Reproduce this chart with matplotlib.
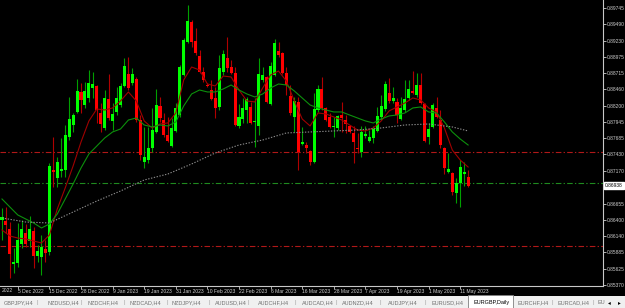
import matplotlib.pyplot as plt
from matplotlib.patches import Rectangle
import numpy as np

plt.rcParams['font.family'] = ['Liberation Sans', 'DejaVu Sans']

# EURGBP daily candles, oldest first
opens = [.86395, .86379, .86253, .85700, .85716, .86016, .86190, .86063, .86221, .85826,
         .85810, .85937, .85889, .87185, .87059, .87169, .87185, .87707, .87896, .88102,
         .88418, .88212, .88323, .88481, .88513, .88086, .87849, .88307, .87960, .88102,
         .88212, .88513, .88702, .88560, .88623, .87975, .87311, .87343, .87533, .87786,
         .88197, .87975, .87738, .87564, .87802, .88054, .88686, .89207, .89523, .89223,
         .88986, .88733, .88528, .88449, .88323, .88181, .88733, .88955, .88812, .88718,
         .87881, .87991, .88133, .88181, .87944, .87881, .88607, .88655, .88228, .88686,
         .89065, .89034, .88718, .88355, .88023, .88260, .87596, .87580, .87485, .87311,
         .88133, .88465, .88165, .88023, .87865, .87849, .88054, .87975, .87881, .87770,
         .87533, .87469, .87723, .87643, .87691, .87802, .88023, .88149, .88402, .88276,
         .88260, .87991, .88133, .88323, .88434, .88370, .88528, .88228, .87707, .87865,
         .88165, .87975, .87533, .87153, .87138, .86822, .86980, .87122, .87075]
highs = [.86585, .86600, .86363, .85953, .86348, .86395, .86332, .86458, .86285, .86000,
         .86158, .86079, .87296, .87707, .87390, .87691, .87896, .88339, .88086, .88623,
         .88560, .88576, .88765, .88733, .88528, .88244, .88449, .88702, .88244, .88497,
         .88560, .88955, .88970, .88797, .88655, .88054, .87865, .87865, .88165, .88465,
         .88339, .88086, .88023, .88007, .88244, .88844, .89270, .89792, .89555, .89429,
         .89081, .88812, .88560, .88607, .88497, .89002, .89081, .89286, .88923, .88812,
         .88228, .88323, .88339, .88260, .88323, .88955, .88812, .88670, .88891, .89255,
         .89207, .89049, .88812, .88528, .88339, .88339, .87865, .87627, .87501, .88402,
         .88528, .88655, .88181, .88086, .88023, .88054, .88260, .88054, .87896, .87881,
         .87770, .87881, .87881, .87817, .87881, .88181, .88370, .88591, .88639, .88497,
         .88323, .88339, .88607, .88607, .88749, .88718, .88718, .88244, .87928, .88244,
         .88339, .88133, .87548, .87454, .87153, .87059, .87343, .87311, .87185]
lows = [.86079, .86190, .85479, .85558, .85652, .85953, .85968, .85968, .85637, .85731,
        .85526, .85731, .85842, .86916, .86916, .87075, .87075, .87659, .87786, .88086,
        .88086, .88165, .88260, .88323, .87928, .87786, .87817, .87975, .87817, .88054,
        .88181, .88497, .88449, .88528, .87944, .87343, .87217, .87296, .87469, .87770,
        .87944, .87707, .87627, .87548, .87786, .88023, .88670, .89190, .89128, .89002,
        .88718, .88576, .88497, .88291, .88007, .88133, .88686, .88733, .88702, .87881,
        .87849, .87928, .87928, .87912, .87548, .87738, .88576, .88244, .88212, .88670,
        .88970, .88702, .88370, .88054, .87786, .87185, .87580, .87454, .87264, .87296,
        .88102, .88133, .87960, .87849, .87707, .87817, .87786, .87770, .87770, .87296,
        .87454, .87390, .87691, .87627, .87612, .87786, .87975, .88118, .88244, .88244,
        .87928, .87975, .88102, .88291, .88386, .88339, .88228, .87627, .87596, .87849,
        .88007, .87533, .87122, .87138, .86790, .86664, .86600, .86932, .86916]
closes = [.86442, .86316, .85858, .85731, .86079, .86253, .86016, .86253, .85826, .85905,
          .85968, .85874, .87248, .87153, .87311, .87201, .87738, .87991, .88054, .88434,
          .88291, .88434, .88560, .88544, .88133, .87912, .88323, .88007, .88070, .88323,
          .88513, .88828, .88481, .88702, .87975, .87422, .87390, .87533, .87817, .88212,
          .88007, .87738, .87643, .87849, .88165, .88812, .89239, .89539, .89207, .89034,
          .88733, .88607, .88513, .88307, .88165, .88797, .89018, .88797, .88718, .87896,
          .88023, .88165, .88307, .87928, .87960, .88702, .88686, .88260, .88828, .89192,
          .89002, .88718, .88528, .88086, .88276, .87469, .87627, .87533, .87311, .88149,
          .88465, .88165, .87975, .87865, .87881, .88039, .88007, .87912, .87786, .87627,
          .87517, .87786, .87754, .87707, .87833, .88039, .88197, .88544, .88276, .88323,
          .88054, .88165, .88307, .88465, .88402, .88528, .88244, .87643, .87833, .88212,
          .88023, .87580, .87217, .87201, .86837, .86980, .87232, .87153, .86938]

# moving averages read every 2nd bar (grey one at its own bars)
fast_ma = [.86237, .86142, .86110, .86095, .86063, .86032, .86158, .86569, .86901, .87248,
           .87627, .87960, .88149, .88133, .88165, .88276, .88418, .88276, .87960, .87849,
           .87912, .87928, .88086, .88607, .88812, .88765, .88544, .88513, .88670, .88655,
           .88449, .88276, .88260, .88481, .88686, .88749, .88591, .88276, .87991, .87881,
           .88086, .88070, .88023, .87975, .87896, .87817, .87802, .87849, .87960, .88118,
           .88181, .88244, .88323, .88291, .88165, .88102, .87849, .87501, .87343, .87232]
mid_ma = [.86727, .86600, .86474, .86411, .86348, .86269, .86332, .86490, .86727, .86964,
          .87217, .87438, .87564, .87691, .87786, .87833, .87975, .88007, .87896, .87865,
          .87896, .87881, .87944, .88197, .88386, .88449, .88418, .88418, .88465, .88528,
          .88449, .88386, .88339, .88386, .88481, .88544, .88528, .88434, .88323, .88212,
          .88165, .88133, .88102, .88102, .88054, .88007, .87960, .87928, .87991, .88039,
          .88054, .88086, .88165, .88181, .88102, .88086, .87944, .87786, .87675, .87580]
slow_idx = [0, 6, 12, 18, 24, 30, 36, 42, 48, 54, 60, 66, 72, 78, 84, 90, 96, 102, 108, 114, 118]
slow_ma = [.86427, .86363, .86348, .86521, .86695, .86853, .87027, .87122, .87280, .87454,
           .87580, .87659, .87770, .87786, .87802, .87817, .87849, .87896, .87912, .87865, .87802]

levels = [0.87465, 0.86984, 0.85984]
level_colors = ['#b01818', '#1f8a1f', '#b01818']

price_ticks = [0.89745, 0.89490, 0.89230, 0.88975, 0.88715, 0.88460, 0.88200, 0.87945,
               0.87685, 0.87430, 0.87170, 0.86655, 0.86400, 0.86140, 0.85885, 0.85625, 0.85370]

date_idx = [4, 12, 20, 28, 36, 44, 52, 60, 68, 76, 84, 92, 100, 108, 116]
date_labels = ['5 Dec 2022', '15 Dec 2022', '28 Dec 2022', '9 Jan 2023',
               '19 Jan 2023', '31 Jan 2023', '10 Feb 2023', '22 Feb 2023', '6 Mar 2023',
               '16 Mar 2023', '28 Mar 2023', '7 Apr 2023', '19 Apr 2023', '1 May 2023',
               '11 May 2023']
edge_label = '2022'   # tail of the label that scrolled off the left edge

tabs = ['GBPJPY,H4', 'NZDUSD,H4', 'NZDCHF,H4', 'NZDCAD,H4', 'NZDJPY,H4', 'AUDUSD,H4',
        'AUDCHF,H4', 'AUDCAD,H4', 'AUDNZD,H4', 'AUDJPY,H4', 'EURUSD,H4', 'EURGBP,Daily',
        'EURCHF,H4', 'EURCAD,H4', 'EU']
active_tab = 'EURGBP,Daily'

W, H = 625, 308
fig = plt.figure(figsize=(W / 100, H / 100), dpi=100, facecolor='black')
ax = fig.add_axes([0, 22 / H, 603 / W, 286 / H], facecolor='black')

o, h, l, c = map(np.array, (opens, highs, lows, closes))
x = np.arange(len(o))
up = c >= o

ax.vlines(x, l, h, colors=np.where(up, '#00a000', '#b00000'), lw=0.8, zorder=2)
ax.bar(x, np.maximum(np.abs(c - o), 0.00007), bottom=np.minimum(o, c), width=0.78,
       color=np.where(up, '#00ff00', '#ff0000'), linewidth=0, zorder=3)

for lv, col in zip(levels, level_colors):
    ax.axhline(lv, color=col, lw=0.8, dashes=(5, 2, 1.2, 2), zorder=1)

ax.plot(np.arange(0, len(o), 2), fast_ma, color='#a00000', lw=0.8, zorder=4)
ax.plot(np.arange(0, len(o), 2), mid_ma, color='#0c900c', lw=0.8, zorder=4)
ax.plot(slow_idx, slow_ma, color='#8c8c8c', lw=0.8, dashes=(1.2, 1.4), zorder=4)

ax.set_xlim(-0.506, 152.15)
ax.set_ylim(0.85352, 0.89871)

for s in ('left', 'top'):
    ax.spines[s].set_visible(False)
for s in ('right', 'bottom'):
    ax.spines[s].set_color('#c8c8c8')
    ax.spines[s].set_linewidth(0.8)

ax.yaxis.tick_right()
ax.set_yticks(price_ticks)
ax.set_yticklabels([f'{v:.5f}' for v in price_ticks])
ax.tick_params(axis='y', colors='#d0d0d0', labelsize=3.5, length=2, width=0.6, pad=1.0)

ax.set_xticks(date_idx)
ax.set_xticklabels([])
ax.tick_params(axis='x', colors='#c8c8c8', length=2, width=0.6)
xtr = ax.get_xaxis_transform()
for i, lab in zip(date_idx, date_labels):
    ax.text(i, -0.018, lab, transform=xtr, ha='left', va='center', fontsize=3.6,
            color='#d0d0d0', clip_on=False)
fig.text(2 / W, (H - 291) / H, edge_label, ha='left', va='center', fontsize=3.6,
         color='#d0d0d0')

# current price marker
ax.annotate(f'{closes[-1]:.5f}', xy=(1, closes[-1]), xycoords=('axes fraction', 'data'),
            xytext=(1.5, 0), textcoords='offset points', ha='left', va='center',
            fontsize=3.5, color='black',
            bbox=dict(boxstyle='square,pad=0.25', fc='white', ec='white'))

# symbol tabs strip
fig.patches.append(Rectangle((0, 0), 1, 12 / H, transform=fig.transFigure,
                             fc='#f0f0f0', ec='none', zorder=0))
tab_left = [4, 48, 87, 130, 171, 215, 258, 302, 342, 388, 432, 473, 518, 558, 597]
seps = [37, 81, 124, 167, 209, 248, 295, 336, 380, 425, 552, 593]
ty = 5.5 / H
for name, tx in zip(tabs, tab_left):
    if name == active_tab:
        fig.patches.append(Rectangle(((tx - 5) / W, 0), 45 / W, 13.5 / H,
                                     transform=fig.transFigure, fc='white',
                                     ec='#808080', lw=0.6, zorder=1))
        fig.text(tx / W, ty, name, ha='left', va='center', fontsize=4.0,
                 color='black', zorder=2)
    else:
        fig.text(tx / W, ty, name, ha='left', va='center', fontsize=4.0,
                 color='#707070', zorder=2)
for sx in seps:
    fig.text(sx / W, ty, '|', ha='center', va='center', fontsize=4, color='#a0a0a0')
fig.text(609 / W, ty, '◂', ha='center', va='center', fontsize=4, color='black',
         family='DejaVu Sans')
fig.text(619 / W, ty, '▸', ha='center', va='center', fontsize=4, color='black',
         family='DejaVu Sans')

fig.savefig('out.png', dpi=100, facecolor='black')
